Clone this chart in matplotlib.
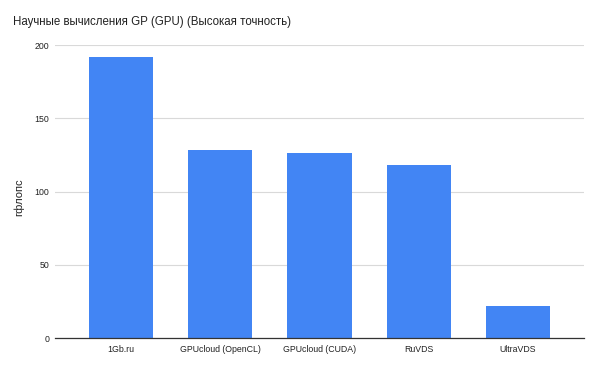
import matplotlib
matplotlib.use("Agg")
import matplotlib.pyplot as plt

plt.rcParams['font.family'] = ['Liberation Sans', 'DejaVu Sans']

# data
hosts = ['1Gb.ru', 'GPUcloud (OpenCL)', 'GPUcloud (CUDA)', 'RuVDS', 'UltraVDS']
gflops = [192, 128.5, 126.3, 118.3, 21.8]
yticks = [0, 50, 100, 150, 200]

fig = plt.figure(figsize=(6, 3.69), dpi=100)
ax = fig.add_axes([0.0917, 0.084, 0.8816, 0.794])

ax.bar(range(len(hosts)), gflops, width=0.645, color='#4285f4', zorder=3)
ax.set_xlim(-0.665, len(hosts) - 1 + 0.665)
ax.set_ylim(0, 200)
ax.set_yticks(yticks)
ax.set_xticks(range(len(hosts)))
ax.set_xticklabels(hosts)

ax.grid(axis='y', color='#d9d9d9', linewidth=0.8, zorder=0)
for s in ['top', 'right', 'left']:
    ax.spines[s].set_visible(False)
ax.spines['bottom'].set_color('#333333')
ax.spines['bottom'].set_linewidth(0.9)
ax.spines['bottom'].set_zorder(4)
ax.tick_params(axis='both', length=0, labelsize=6.3, labelcolor='#222222')
ax.tick_params(axis='y', pad=4)
ax.tick_params(axis='x', pad=5)

ax.set_ylabel('гфлопс', fontsize=8, color='#222222')
ax.yaxis.set_label_coords(-0.058, 0.48)
fig.text(0.022, 0.94, 'Научные вычисления GP (GPU) (Высокая точность)',
         fontsize=8.3, color='#222222', va='center', ha='left')

fig.savefig('out.png', dpi=100)
